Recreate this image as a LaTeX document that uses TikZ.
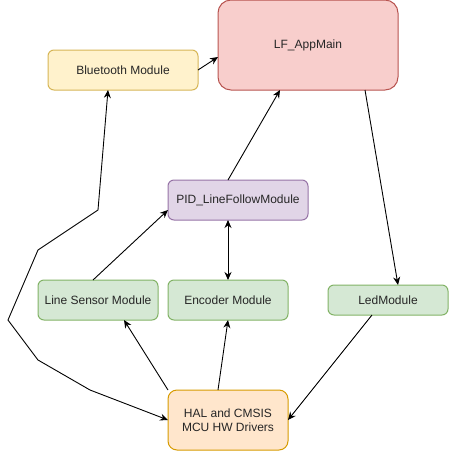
\documentclass[tikz,border=0pt]{standalone}
\usepackage{fontspec}
\setmainfont{Liberation Sans}
\usepackage{xcolor}
\definecolor{appfill}{HTML}{F8CECC}
\definecolor{appdraw}{HTML}{B85450}
\definecolor{btfill}{HTML}{FFF2CC}
\definecolor{btdraw}{HTML}{D6B656}
\definecolor{pidfill}{HTML}{E1D5E7}
\definecolor{piddraw}{HTML}{9673A6}
\definecolor{modfill}{HTML}{D5E8D4}
\definecolor{moddraw}{HTML}{82B366}
\definecolor{halfill}{HTML}{FFE6CC}
\definecolor{haldraw}{HTML}{D79B00}
\usetikzlibrary{arrows.meta,positioning}
\tikzset{
  modbox/.style={rectangle, rounded corners=6pt, line width=1pt, inner sep=0pt, outer sep=0pt,
    minimum width=120pt, minimum height=40pt, align=center, text=black!85,
    font=\fontsize{12}{14.5}\selectfont},
  link/.style={line width=0.9pt, -{Stealth[length=8pt,width=7pt]}},
  dlink/.style={line width=0.9pt, {Stealth[length=8pt,width=7pt]}-{Stealth[length=8pt,width=7pt]}}
}

\begin{document}
\begin{tikzpicture}[x=1pt, y=-1pt]
  \useasboundingbox (0,0) rectangle (449,451);

  %% Top level
  \node[modbox, draw=appdraw, fill=appfill, minimum width=180pt, minimum height=90pt, rounded corners=13pt] (app) at (308,45) {LF\_AppMain};
  \node[modbox, draw=btdraw, fill=btfill, minimum width=150pt] (bt) at (123,70) {Bluetooth Module};
  \node[modbox, draw=piddraw, fill=pidfill, minimum width=140pt] (pid) at (238,200) {PID\_LineFollowModule};

  %% Modules
  \node[modbox, draw=moddraw, fill=modfill] (sensor) at (98,300) {Line Sensor Module};
  \node[modbox, draw=moddraw, fill=modfill] (enc) at (228,300) {Encoder Module};
  \node[modbox, draw=moddraw, fill=modfill, minimum height=30pt] (led) at (388,300) {LedModule};

  %% Drivers
  \node[modbox, draw=haldraw, fill=halfill, minimum height=60pt, rounded corners=9pt] (hal) at (228,420) {HAL and CMSIS\\MCU HW Drivers};

  %% Connectors
  \draw[link] (bt.east) -- ([yshift=-12pt]app.west);
  \draw[link] ([xshift=-10pt]pid.north) -- ([xshift=-28pt]app.south);
  \draw[link] ([xshift=-5pt]sensor.north) -- ([yshift=-10pt]pid.west);
  \draw[dlink] ([xshift=-10pt]pid.south) -- (enc.north);
  \draw[link] (hal.north west) -- ([xshift=26pt]sensor.south);
  \draw[link] ([xshift=-10pt]hal.north) -- (enc.south);
  \draw[link] ([xshift=57pt]app.south) -- ([xshift=10pt]led.north);
  \draw[link] ([xshift=-16pt]led.south) -- (hal.east);
  \draw[dlink] ([xshift=-15pt]bt.south) -- (98,210) -- (38,250) -- (8,320) -- (38,360) -- (90,390) -- (hal.west);
\end{tikzpicture}
\end{document}
